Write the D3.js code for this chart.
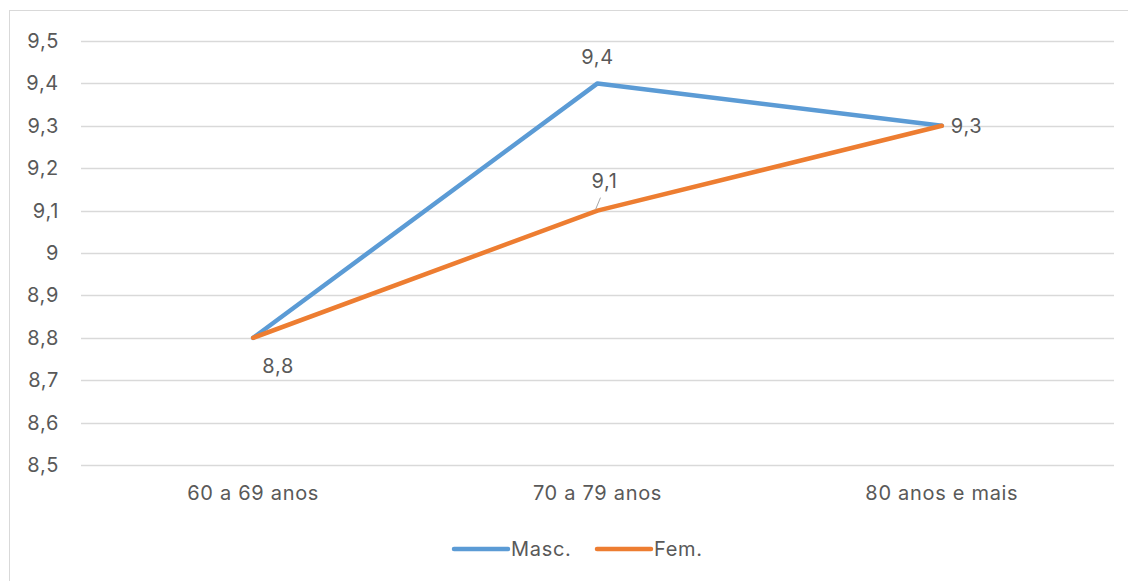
<!DOCTYPE html>
<html>
<head>
<meta charset="utf-8">
<script src="https://cdn.jsdelivr.net/npm/d3@7"></script>
<style>
  html, body { margin: 0; padding: 0; background: #fff; }
  svg { display: block; }
  text { font-family: Inter, "Open Sans", sans-serif; fill: #595959; letter-spacing: 0.7px; }
</style>
</head>
<body>
<svg id="chart" width="1128" height="581"></svg>
<script>
// Age groups and mean values per sex
const categories = ["60 a 69 anos", "70 a 79 anos", "80 anos e mais"];
const masc = [8.8, 9.4, 9.3];
const fem = [8.8, 9.1, 9.3];
const yTicks = [8.5, 8.6, 8.7, 8.8, 8.9, 9.0, 9.1, 9.2, 9.3, 9.4, 9.5];
const seriesNames = ["Masc.", "Fem."];
const seriesColors = ["#5B9BD5", "#ED7D31"];

const FS = 20;
const svg = d3.select("#chart");
const W = 1128, H = 581;

// outer frame of the chart area
svg.append("rect")
  .attr("x", 9.5).attr("y", 10.5)
  .attr("width", W + 10).attr("height", H + 10)
  .attr("fill", "none").attr("stroke", "#d9d9d9").attr("stroke-width", 1);

const plot = { left: 81, right: 1114, top: 41, bottom: 465 };

const x = d3.scaleBand().domain(categories).range([plot.left, plot.right]);
const y = d3.scaleLinear().domain([8.5, 9.5]).range([plot.bottom, plot.top]);
const fmt = v => (Number.isInteger(v) ? String(v) : v.toFixed(1).replace(".", ","));

// horizontal gridlines
svg.append("g").selectAll("line").data(yTicks).join("line")
  .attr("x1", plot.left).attr("x2", plot.right)
  .attr("y1", d => Math.round(y(d)) + 0.5).attr("y2", d => Math.round(y(d)) + 0.5)
  .attr("stroke", "#d9d9d9").attr("stroke-width", 1.3);

// y axis labels
const yAxis = d3.axisLeft(y).tickValues(yTicks).tickFormat(fmt).tickSize(0).tickPadding(0);
const yg = svg.append("g").attr("transform", `translate(59,0)`).call(yAxis);
yg.select(".domain").remove();
yg.selectAll("text").attr("font-size", FS).attr("fill", "#595959")
  .style("font-family", "Inter, 'Open Sans', sans-serif");

// x axis labels
const xAxis = d3.axisBottom(x).tickSize(0).tickPadding(0);
const xg = svg.append("g").attr("transform", `translate(0,486)`).call(xAxis);
xg.select(".domain").remove();
xg.selectAll("text").attr("font-size", FS).attr("fill", "#595959")
  .style("font-family", "Inter, 'Open Sans', sans-serif");

// series lines
const line = d3.line()
  .x((d, i) => x(categories[i]) + x.bandwidth() / 2)
  .y(d => y(d));

[masc, fem].forEach((vals, k) => {
  svg.append("path")
    .datum(vals)
    .attr("d", line)
    .attr("fill", "none")
    .attr("stroke", seriesColors[k])
    .attr("stroke-width", 4.5)
    .attr("stroke-linejoin", "round")
    .attr("stroke-linecap", "round");
});

const cx = i => x(categories[i]) + x.bandwidth() / 2;

// data labels
const labels = [
  { i: 1, v: masc[1], dx: 0, dy: -19, anchor: "middle" },
  { i: 1, v: fem[1], dx: 7, dy: -23, anchor: "middle", leader: true },
  { i: 2, v: fem[2], dx: 9, dy: 7, anchor: "start" },
  { i: 0, v: fem[0], dx: 25, dy: 35, anchor: "middle" }
];
labels.forEach(l => {
  svg.append("text")
    .attr("x", cx(l.i) + l.dx)
    .attr("y", y(l.v) + l.dy)
    .attr("text-anchor", l.anchor)
    .attr("font-size", FS)
    .text(fmt(l.v));
  if (l.leader) {
    svg.append("line")
      .attr("x1", cx(l.i) - 2).attr("y1", y(l.v) - 1)
      .attr("x2", cx(l.i) + 3).attr("y2", y(l.v) - 13)
      .attr("stroke", "#a6a6a6").attr("stroke-width", 1);
  }
});

// legend
const legendItems = [
  { name: seriesNames[0], color: seriesColors[0], x: 454 },
  { name: seriesNames[1], color: seriesColors[1], x: 597 }
];
legendItems.forEach(it => {
  svg.append("line")
    .attr("x1", it.x).attr("x2", it.x + 54)
    .attr("y1", 549).attr("y2", 549)
    .attr("stroke", it.color).attr("stroke-width", 4.5)
    .attr("stroke-linecap", "round");
  svg.append("text")
    .attr("x", it.x + 57).attr("y", 556)
    .attr("font-size", FS)
    .text(it.name);
});
</script>
</body>
</html>
